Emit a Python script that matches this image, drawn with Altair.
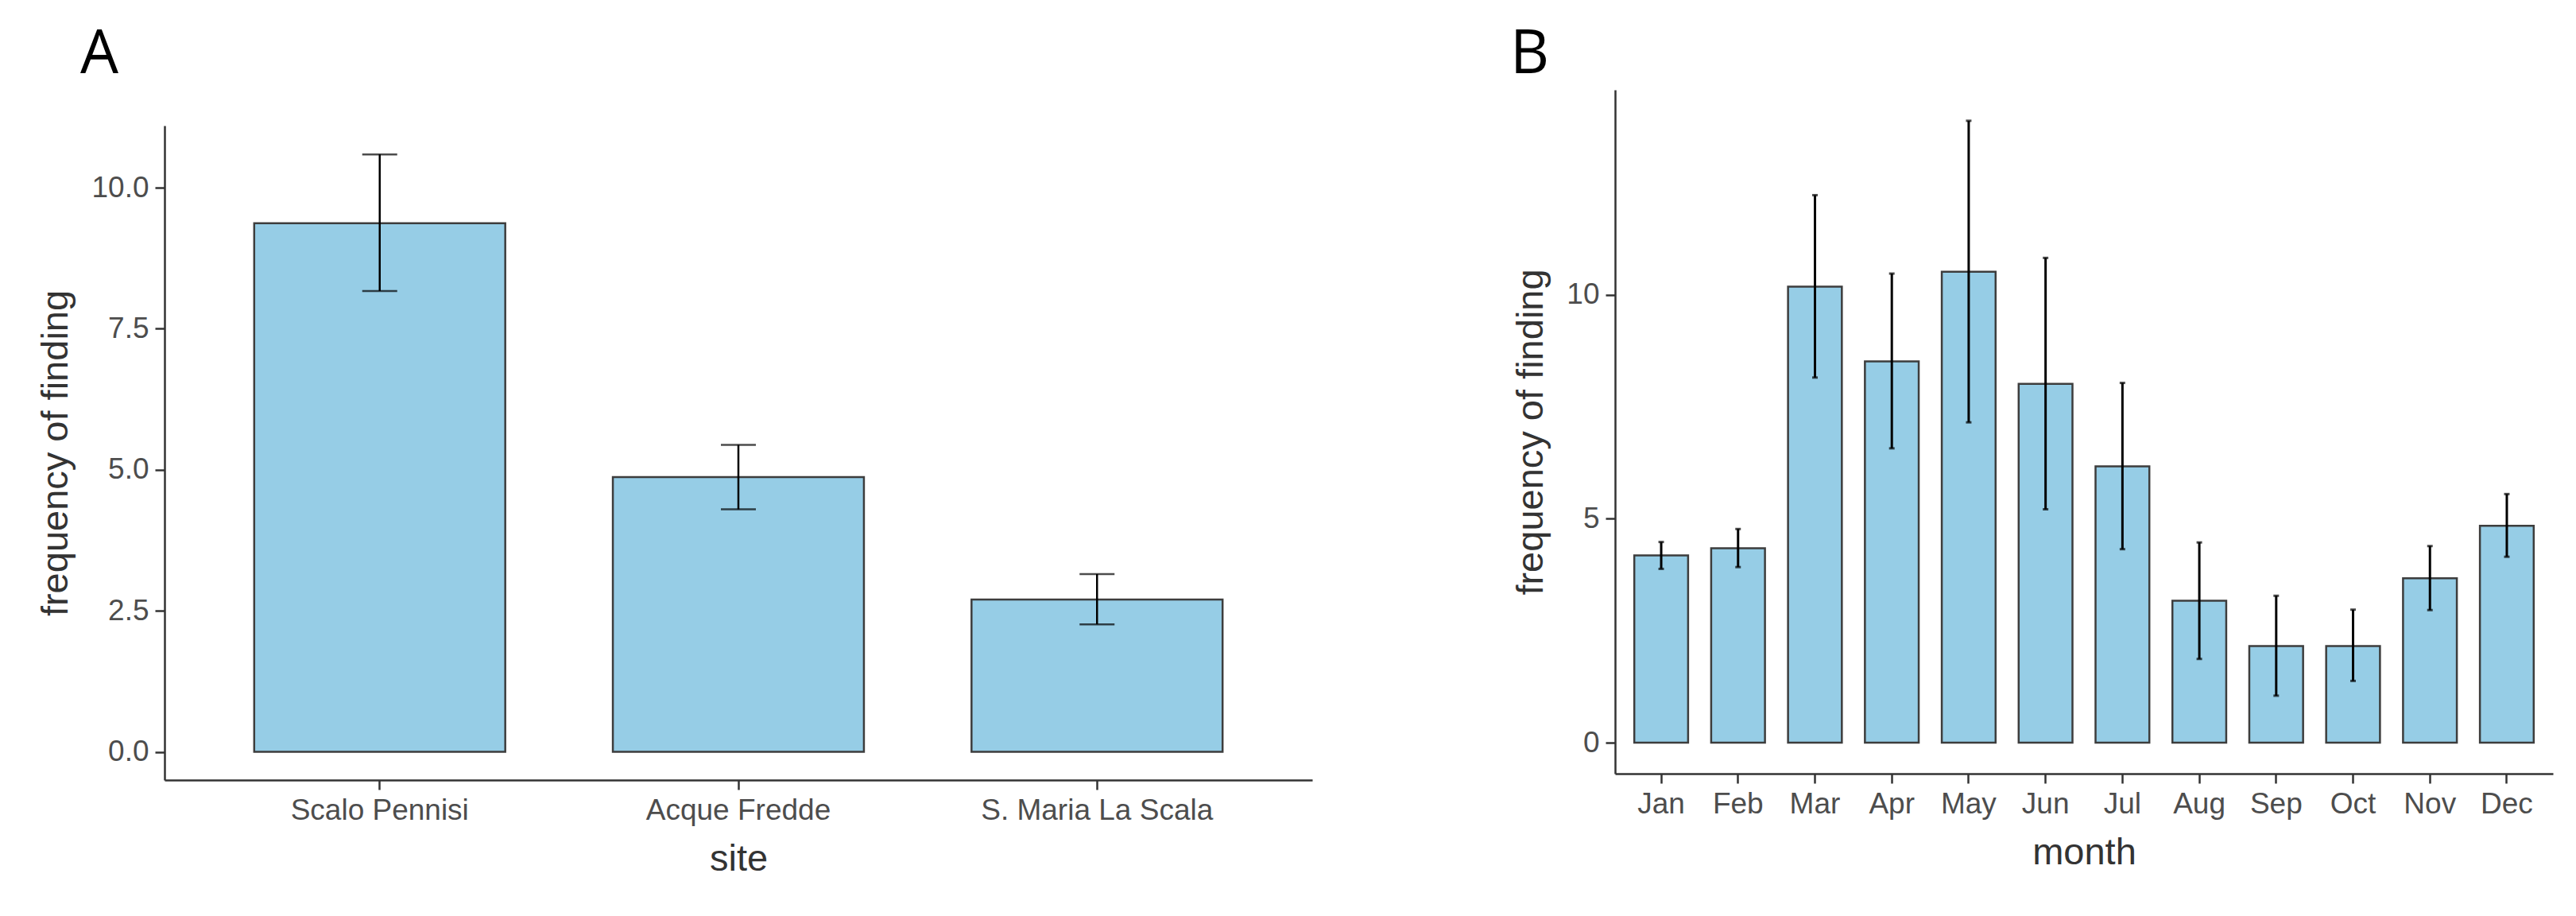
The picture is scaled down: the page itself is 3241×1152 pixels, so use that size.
import altair as alt
import pandas as pd

# Panel A data
sites = ["Scalo Pennisi", "Acque Fredde", "S. Maria La Scala"]
site_mean = [9.37, 4.87, 2.70]
site_lo = [8.17, 4.30, 2.26]
site_hi = [10.59, 5.44, 3.15]

# Panel B data
months = ["Jan", "Feb", "Mar", "Apr", "May", "Jun",
          "Jul", "Aug", "Sep", "Oct", "Nov", "Dec"]
month_mean = [4.18, 4.34, 10.18, 8.51, 10.51, 8.01, 6.17, 3.17, 2.16, 2.16, 3.67, 4.84]
month_lo = [3.88, 3.92, 8.15, 6.57, 7.15, 5.21, 4.32, 1.87, 1.05, 1.38, 2.96, 4.15]
month_hi = [4.48, 4.77, 12.22, 10.47, 13.88, 10.82, 8.03, 4.47, 3.28, 2.97, 4.39, 5.55]

panel_labels = ["A", "B"]

dfA = pd.DataFrame({"site": sites, "mean": site_mean, "lo": site_lo, "hi": site_hi})
dfB = pd.DataFrame({"month": months, "mean": month_mean, "lo": month_lo, "hi": month_hi})

FILL = "#96CDE6"
STROKE = "#3d3d3d"
FONT = "Liberation Sans"


def header(label, width, height, dx):
    return alt.Chart(pd.DataFrame({"label": [label]})).mark_text(
        font="Open Sans", fontSize=76, color="black", align="left",
        baseline="alphabetic"
    ).encode(
        text="label:N", x=alt.value(dx), y=alt.value(64)
    ).properties(width=width, height=height)


def panel(df, cat, order, ydomain, yticks, yfmt, xtitle,
          width, height, cap, rule_w):
    xenc = alt.X(f"{cat}:N", sort=order, title=xtitle,
                 scale=alt.Scale(paddingInner=0.3, paddingOuter=0.25),
                 axis=alt.Axis(labelAngle=0, labelLimit=0))
    yscale = alt.Scale(domain=ydomain, nice=False, zero=False)
    yaxis = alt.Axis(values=yticks, format=yfmt)
    base = alt.Chart(df)
    bars = base.mark_bar(fill=FILL, stroke=STROKE, strokeWidth=2.5).encode(
        x=xenc,
        y=alt.Y("mean:Q", scale=yscale, axis=yaxis, title="frequency of finding"),
    )
    rule = base.mark_rule(color="black", strokeWidth=rule_w).encode(
        x=alt.X(f"{cat}:N", sort=order),
        y=alt.Y("lo:Q"),
        y2="hi:Q",
    )
    cap_hi = base.mark_tick(color="black", size=cap, thickness=rule_w).encode(
        x=alt.X(f"{cat}:N", sort=order), y=alt.Y("hi:Q"))
    cap_lo = base.mark_tick(color="black", size=cap, thickness=rule_w).encode(
        x=alt.X(f"{cat}:N", sort=order), y=alt.Y("lo:Q"))
    return alt.layer(bars, rule, cap_hi, cap_lo).properties(width=width, height=height)


pA_core = panel(dfA, "site", sites, [-0.5, 11.1], [0, 2.5, 5, 7.5, 10], ".1f",
                "site", 1444, 823, 44, 2.5)
pB_core = panel(dfB, "month", months, [-0.69, 14.57], [0, 5, 10], "d",
                "month", 1180, 860, 7, 3)

colA = alt.vconcat(header(panel_labels[0], 1444, 130, -106), pA_core, spacing=0)
colB = alt.vconcat(header(panel_labels[1], 1180, 85, -132), pB_core, spacing=0)

chart = alt.hconcat(colA, colB, spacing=249).properties(
    padding={"left": 38, "top": 20, "right": 10, "bottom": 10}
).configure_view(stroke=None).configure_axis(
    grid=False,
    domainColor="#333333", domainWidth=2.5,
    tickColor="#333333", tickWidth=2.5, tickSize=12,
    labelFont=FONT, labelFontSize=37, labelColor="#4D4D4D", labelPadding=8,
    titleFont=FONT, titleFontSize=47, titleColor="#333333", titleFontWeight="normal",
    titlePadding=20,
)

chart.save("out.html", embed_options={"renderer": "svg", "actions": False})
